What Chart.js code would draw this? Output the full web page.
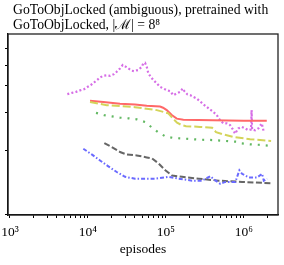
<!DOCTYPE html>
<html><head><meta charset="utf-8">
<script src="https://cdn.jsdelivr.net/npm/chart.js@4.4.0/dist/chart.umd.min.js"></script>
<style>html,body{margin:0;padding:0;background:#fff;}#wrap{width:284px;height:265px;}</style>
</head><body><div id="wrap"><canvas id="c" width="284" height="265"></canvas></div>
<script>
const titleLines = ["GoToObjLocked (ambiguous), pretrained with", "GoToObjLocked, |\u2133| = 8\u2078"];
const xAxisTitle = "episodes";
const xTickValues = [1000,2000,3000,4000,5000,6000,7000,8000,9000,10000,20000,30000,40000,50000,60000,70000,80000,90000,100000,200000,300000,400000,500000,600000,700000,800000,900000,1000000,2000000];
const xTickLabels = {1000:"10\u00b3",10000:"10\u2074",100000:"10\u2075",1000000:"10\u2076"};
const yTickValues = [0.1,0.2,0.3,0.4,0.5,0.6];

const magentaEpisodes = [5442,6254,7037,7921,8915,9829,10866,11982,13207,14304,15772,17436,19224,21633,23436,25834,27988,30850,33026,36511,39084,42325,44376,49077,51448,54110,56885,59636,64030,69130,76440,84290,92930,102730,113280,124890,138100,152230,164900,172900,188900,204600,225600,249400,274900,303000,335100,369400,407300,450400,496600,547500,605300,667400,735800,773600,852800,943000,1039700,1146300,1241500,1260000,1278700,1397000,1540000,1703000,1785000,1796000];
const magentaValues = [0.366,0.371,0.375,0.381,0.386,0.395,0.403,0.415,0.427,0.438,0.446,0.448,0.446,0.454,0.466,0.483,0.501,0.491,0.483,0.471,0.469,0.473,0.475,0.491,0.510,0.513,0.491,0.458,0.441,0.426,0.411,0.396,0.389,0.382,0.378,0.362,0.369,0.375,0.389,0.378,0.365,0.362,0.355,0.349,0.339,0.328,0.319,0.310,0.302,0.292,0.276,0.267,0.267,0.262,0.248,0.239,0.253,0.257,0.253,0.248,0.250,0.308,0.250,0.248,0.253,0.267,0.248,0.243];

const redEpisodes = [10644,15772,25834,40260,56885,84290,92100,102730,119100,138100,167800,400000,1000000,1974000];
const redValues = [0.341,0.336,0.330,0.327,0.323,0.320,0.316,0.308,0.292,0.281,0.278,0.276,0.275,0.275];

const yellowEpisodes = [10644,17436,40260,51448,76440,106800,120200,139300,156800,181800,274900,391900,441200,526800,729200,1205000,2242000];
const yellowValues = [0.336,0.325,0.318,0.314,0.308,0.298,0.284,0.269,0.263,0.259,0.257,0.255,0.243,0.238,0.231,0.225,0.221];

const greenEpisodes = [12710,16100,20390,25834,33026,42325,54110,66530,79430,98580,126300,161500,264600,412300,667400,813400,943000,1205000,1540000,2052000];
const greenValues = [0.299,0.292,0.288,0.284,0.282,0.279,0.271,0.255,0.243,0.232,0.228,0.227,0.224,0.223,0.220,0.219,0.215,0.213,0.212,0.210];

const grayEpisodes = [16240,20210,25834,31490,42325,56885,66530,81100,98580,120200,161500,264600,477800,951300,2310000];
const grayValues = [0.216,0.207,0.196,0.191,0.189,0.185,0.183,0.173,0.161,0.152,0.150,0.147,0.144,0.142,0.140];

const blueEpisodes = [8734,11190,14304,18280,23436,29950,40260,56885,73360,109000,146500,217000,291600,372700,412300,501000,580700,780400,878400,951300,1160000,1482000,1719000,1807000,1992000];
const blueValues = [0.203,0.191,0.179,0.168,0.158,0.150,0.147,0.147,0.147,0.150,0.147,0.144,0.144,0.151,0.146,0.139,0.142,0.142,0.161,0.155,0.149,0.149,0.155,0.144,0.147];

function pts(xs, ys){ return xs.map((x,i)=>({x:x, y:ys[i]})); }
function ds(xs, ys, color, width, dash){
  return {data: pts(xs,ys), borderColor: color, borderWidth: width, borderDash: dash, pointRadius: 0, tension: 0, fill: false, borderCapStyle: 'butt'};
}

const framePlugin = {
  id: 'frame',
  afterDraw(chart){
    const ctx = chart.ctx, a = chart.chartArea;
    ctx.save();
    ctx.strokeStyle = '#222'; ctx.lineWidth = 1.3;
    ctx.strokeRect(a.left, a.top, a.right - a.left, a.bottom - a.top);
    ctx.fillStyle = '#000';
    ctx.font = '13.7px "Liberation Serif"';
    ctx.textBaseline = 'middle'; ctx.textAlign = 'left';
    ctx.fillText(titleLines[0], 13, 10);
    ctx.fillText(titleLines[1], 13, 25);
    ctx.restore();
  }
};

new Chart(document.getElementById('c'), {
  type: 'line',
  data: { datasets: [
    ds(blueEpisodes, blueValues, '#6a6aff', 2, [4,2,1.5,2]),
    ds(grayEpisodes, grayValues, '#666666', 2, [6,2.5]),
    ds(greenEpisodes, greenValues, '#62b862', 2.2, [2,6]),
    ds(yellowEpisodes, yellowValues, '#d4d45a', 2, [8,3]),
    ds(redEpisodes, redValues, '#ff6868', 2, []),
    ds(magentaEpisodes, magentaValues, '#d66ee6', 2.2, [2,2.2])
  ]},
  options: {
    responsive: false, animation: false, devicePixelRatio: 1,
    layout: { padding: { left: 5, right: 6, top: 34, bottom: 0 } },
    plugins: { legend: { display: false }, tooltip: { enabled: false }, title: { display: false } },
    scales: {
      x: {
        type: 'logarithmic', min: 943, max: 2750000,
        afterBuildTicks(s){ s.ticks = xTickValues.map(v=>({value:v})); },
        afterFit(s){ s.height = 50; s.paddingLeft = 0; s.paddingRight = 0; },
        grid: { drawOnChartArea: false, drawTicks: true, tickLength: 3, color: '#000', tickWidth: 1 },
        border: { display: true, color: '#000', width: 1.3 },
        ticks: { autoSkip: false, maxRotation: 0, minRotation: 0, padding: 6, color: '#000',
          font: { family: '"Liberation Serif"', size: 13.5 },
          callback(v){ return xTickLabels[v] || ''; } },
        title: { display: true, text: xAxisTitle, color: '#000', font: { family: '"Liberation Serif"', size: 13.5 }, padding: { top: 0, bottom: 7 } }
      },
      y: {
        type: 'logarithmic', min: 0.0994, max: 0.70,
        afterBuildTicks(s){ s.ticks = yTickValues.map(v=>({value:v})); },
        grid: { drawOnChartArea: false, drawTicks: true, tickLength: 3, color: '#000', tickWidth: 1 },
        border: { display: true, color: '#000', width: 1.3 },
        ticks: { display: false }
      }
    }
  },
  plugins: [framePlugin]
});
</script></body></html>
